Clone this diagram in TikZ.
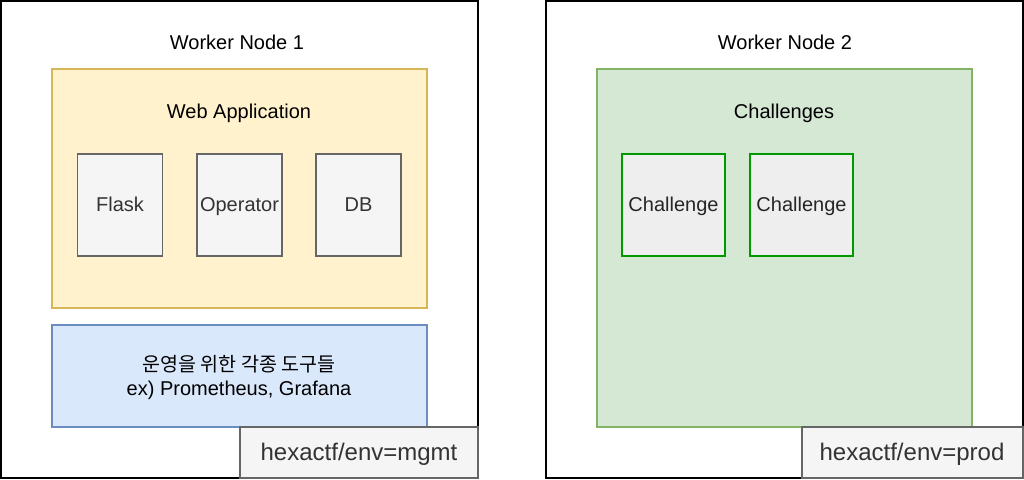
\documentclass[tikz,border=0pt]{standalone}
\usepackage{graphicx}
\usepackage{fontspec}
\setmainfont{Liberation Sans}
\newfontfamily\krfont{Noto Sans CJK KR}
\definecolor{ylfill}{HTML}{FFF2CC}
\definecolor{ylline}{HTML}{D6B656}
\definecolor{blfill}{HTML}{DAE8FC}
\definecolor{blline}{HTML}{6C8EBF}
\definecolor{gnfill}{HTML}{D5E8D4}
\definecolor{gnline}{HTML}{82B366}
\definecolor{gyfill}{HTML}{F5F5F5}
\definecolor{gyline}{HTML}{666666}
\definecolor{gytext}{HTML}{333333}
\definecolor{chfill}{HTML}{EEEEEE}
\definecolor{chline}{HTML}{009900}
\begin{document}
\begin{tikzpicture}[x=1pt,y=-1pt,
  every node/.style={inner sep=0pt, outer sep=0pt},
  outerbox/.style={draw=black, line width=2pt, fill=white, anchor=north west},
  area/.style={line width=1.4pt, anchor=north west},
  comp/.style={draw=gyline, fill=gyfill, line width=1.4pt, anchor=north west,
    minimum width=85pt, minimum height=102pt},
  chal/.style={draw=chline, fill=chfill, line width=1.4pt, anchor=north west,
    minimum width=103pt, minimum height=102pt},
  tag/.style={draw=gyline, fill=gyfill, line width=1.4pt, anchor=north west},
  title/.style={font=\fontsize{20}{24}\selectfont, text=black, anchor=base},
  comptext/.style={font=\fontsize{20}{24}\selectfont, text=gytext, anchor=base},
  chaltext/.style={font=\fontsize{20}{24}\selectfont, text=black!85, anchor=base},
  tagtext/.style={font=\fontsize{24}{28}\selectfont, text=gytext, anchor=base}
]
\useasboundingbox[fill=white] (0,0) rectangle (1024,479);
% Worker node 1
\node[outerbox, minimum width=477pt, minimum height=477pt] (wn1) at (1,1) {};
\node[title] (wn1t) at (237,49.5) {Worker Node 1};
\node[area, draw=ylline, fill=ylfill, minimum width=375pt, minimum height=239pt] (web) at (52,69) {};
\node[title] (webt) at (239,118) {Web Application};
\node[comp] (flask) at (77.5,154) {};
\node[comp] (oper) at (197,154) {};
\node[comp] (db) at (316,154) {};
\node[comptext] (flaskt) at ([yshift=-6pt]flask.center) {Flask};
\node[comptext] (opert) at ([yshift=-6pt]oper.center) {Operator};
\node[comptext] (dbt) at ([yshift=-6pt]db.center) {DB};
\node[area, draw=blline, fill=blfill, minimum width=375pt, minimum height=102pt] (tools) at (52,325) {};
\node[title] (toolsk) at (239,371) {\resizebox{193pt}{!}{\krfont\fontsize{20}{24}\selectfont 운영을 위한 각종 도구들}};
\node[title] (toolse) at (239,395) {ex) Prometheus, Grafana};
\node[tag, minimum width=238pt, minimum height=51pt] (tag1) at (240,427) {};
\node[tagtext] (tag1t) at (359,460) {hexactf/env=mgmt};
% Worker node 2
\node[outerbox, minimum width=477pt, minimum height=477pt] (wn2) at (546,1) {};
\node[title] (wn2t) at (785,49.5) {Worker Node 2};
\node[area, draw=gnline, fill=gnfill, minimum width=375pt, minimum height=358pt] (chs) at (597,69) {};
\node[title] (chst) at (784,118) {Challenges};
\node[chal] (ch1) at (622,154) {};
\node[chal] (ch2) at (750,154) {};
\node[chaltext] (ch1t) at ([yshift=-6pt]ch1.center) {Challenge};
\node[chaltext] (ch2t) at ([yshift=-6pt]ch2.center) {Challenge};
\node[tag, minimum width=221pt, minimum height=51pt] (tag2) at (802,427) {};
\node[tagtext] (tag2t) at (912,460) {hexactf/env=prod};
\end{tikzpicture}
\end{document}
